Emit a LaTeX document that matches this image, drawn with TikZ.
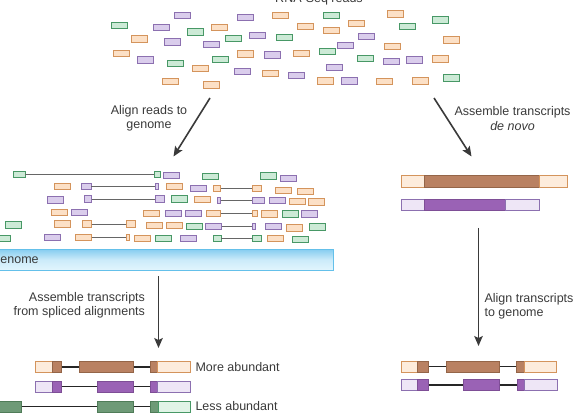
\documentclass[tikz,border=0pt]{standalone}
\usepackage{fontspec}
\setmainfont{Liberation Sans}
\usetikzlibrary{arrows.meta, shadings}

\definecolor{orline}{RGB}{212,148,92}
\definecolor{orfill}{RGB}{252,224,198}
\definecolor{puline}{RGB}{140,112,176}
\definecolor{pufill}{RGB}{218,205,236}
\definecolor{grline}{RGB}{72,152,102}
\definecolor{grfill}{RGB}{204,234,214}
\definecolor{ordark}{RGB}{185,129,98}
\definecolor{ordkline}{RGB}{148,101,72}
\definecolor{orpale}{RGB}{253,236,220}
\definecolor{pudark}{RGB}{154,98,181}
\definecolor{pudkline}{RGB}{126,78,150}
\definecolor{pupale}{RGB}{238,230,246}
\definecolor{grdark}{RGB}{110,154,119}
\definecolor{grdkline}{RGB}{79,124,88}
\definecolor{grpale}{RGB}{224,244,230}
\definecolor{genline}{RGB}{100,192,234}
\definecolor{gentop}{RGB}{135,205,240}
\definecolor{genbot}{RGB}{226,245,253}
\definecolor{ink}{RGB}{58,58,58}

\begin{document}
\begin{tikzpicture}[x=1pt, y=-1pt,
  font=\fontsize{12.5}{14.4}\selectfont, text=ink,
  read/.style={draw, line width=0.9pt, minimum width=16pt, minimum height=6.5pt, inner sep=0pt},
  oread/.style={read, draw=orline, fill=orfill},
  pread/.style={read, draw=puline, fill=pufill},
  gread/.style={read, draw=grline, fill=grfill},
  splice/.style={draw=black!60, line width=0.8pt},
  seg/.style={draw, line width=0.8pt, minimum height=11pt, inner sep=0pt, anchor=west},
  orexon/.style={seg, draw=ordkline, fill=ordark},
  orutr/.style={seg, draw=orline, fill=orpale},
  puexon/.style={seg, draw=pudkline, fill=pudark},
  puutr/.style={seg, draw=puline, fill=pupale},
  grexon/.style={seg, draw=grdkline, fill=grdark},
  grutr/.style={seg, draw=grline, fill=grpale},
  intron/.style={draw=black!85, line width=1.9pt},
  flow/.style={draw=ink, line width=1.6pt, -{Stealth[length=10pt, width=8.5pt, inset=2pt]}}]
\useasboundingbox (0,0) rectangle (581,414);
\clip (0,0) rectangle (581,414);
% top: RNA-Seq reads
\node[anchor=base] (title) at (319,2.5) {RNA-Seq reads};
\foreach \x/\y [count=\i] in {280/15.7, 395/14, 219/27.3, 305/26.7, 356.7/23.7, 331/30.7, 139/39, 392/46.3,
    451/40, 121.3/53.3, 245.3/54, 301/53.7, 200/68.3, 440/59, 270.3/73.7, 170.7/81.7, 211/85, 325/81, 384/81.7, 420/81}
  \node[oread] (ro\i) at (\x,\y) {};
\foreach \x/\y [count=\i] in {182.7/15.7, 245/17.7, 161/27.7, 257.7/35.7, 172.3/42, 211.3/44.3, 366.3/36.7, 345.7/45.7,
    272/55, 145/60, 391.3/61.7, 414.7/60, 242.3/71.7, 296.7/75.7, 334.7/67.3, 349/81}
  \node[pread] (rp\i) at (\x,\y) {};
\foreach \x/\y [count=\i] in {331/15.7, 440/20, 119/25.7, 407/26.7, 195.3/32, 284/37.3, 233/38.7, 327.3/51.7,
    220.7/59.7, 175.7/63.3, 365.7/58.7, 451/78}
  \node[gread] (rg\i) at (\x,\y) {};
% arrows and labels out of the reads
\coordinate (alS) at (210,98);
\coordinate (alE) at (173.5,156.5);
\coordinate (dnS) at (434,98);
\coordinate (dnE) at (471.5,156.5);
\draw[flow] (alS) -- (alE);
\draw[flow] (dnS) -- (dnE);
\node[align=center] (alLbl) at (149,118.5) {Align reads to\\genome};
\node[align=center] (dnLbl) at (512.5,118.5) {Assemble transcripts\\\textit{de novo}};
% left: reads aligned to the genome
\foreach \x/\y [count=\i] in {62.3/186.7, 174/186.7, 283.3/190.7, 305.3/191.7, 202/199.3, 297.3/201.3, 316.7/202,
    59.3/212.3, 151.7/213.3, 269.3/214, 62.3/224, 154/225.7, 174/225.7, 294.3/228, 142.7/238.3, 275.3/238.7}
  \node[oread] (ao\i) at (\x,\y) {};
\foreach \x/\y [count=\i] in {171.7/175.7, 288/178.3, 198/188.3, 55.7/200, 277.7/200.7, 79/212.3, 173.3/213.3,
    193.3/213.3, 309.3/214, 273.3/226.7, 52.3/237.7, 188.7/238.3}
  \node[pread] (ap\i) at (\x,\y) {};
\foreach \x/\y [count=\i] in {210/176.7, 268.3/176, 179.3/199, 290/214, 13.3/225, 194.3/226.7, 317.7/227,
    2.7/238.3, 163.3/238.3, 300/239.3}
  \node[gread] (ag\i) at (\x,\y) {};
% spliced reads
\foreach \c/\xa/\wa/\xb/\wb/\y [count=\i] in {gread/19/12pt/157.7/6pt/174.5, pread/86/10pt/156.7/3pt/186.5,
    oread/217.3/7pt/256.7/9pt/188.3, pread/88/7pt/159.7/9pt/199, pread/219/3pt/258.7/12pt/200.7,
    oread/213.3/14pt/254.7/5pt/213.3, oread/86.7/9pt/130.7/9pt/224, pread/213.3/16pt/254/3pt/226.7,
    oread/83.3/16pt/127.7/3pt/237.7, gread/217/8pt/256.7/9pt/238.7}
{
  \node[\c, minimum width=\wa] (sa\i) at (\xa,\y) {};
  \node[\c, minimum width=\wb] (sb\i) at (\xb,\y) {};
  \draw[splice] (sa\i) -- (sb\i);
}
\node[draw=genline, line width=0.9pt, top color=gentop, bottom color=genbot, middle color=genbot!75!gentop,
  minimum width=338pt, minimum height=20.7pt, inner sep=0pt, anchor=west] (genome) at (-5,259.7) {};
\node[anchor=base west, inner sep=0pt] (genLbl) at (-9.5,263.5) {Genome};
% left: assemble from spliced alignments
\coordinate (spS) at (158.5,276);
\coordinate (spE) at (158.5,348);
\draw[flow] (spS) -- (spE);
\node[align=right, anchor=east] (spLbl) at (148.5,305.5) {Assemble transcripts\\from spliced alignments};
\node[orutr, minimum width=17pt] (lo1) at (34.7,367) {};
\node[orexon, minimum width=9.3pt] (lo2) at (51.7,367) {};
\node[orexon, minimum width=53.4pt] (lo3) at (79.3,367) {};
\node[orexon, minimum width=7.3pt] (lo4) at (150,367) {};
\node[orutr, minimum width=32.7pt] (lo5) at (157.3,367) {};
\draw[intron] (lo2) -- (lo3);
\draw[intron] (lo3) -- (lo4);
\node[puutr, minimum width=17pt] (lp1) at (34.7,386.5) {};
\node[puexon, minimum width=9.3pt] (lp2) at (51.7,386.5) {};
\node[puexon, minimum width=36.6pt] (lp3) at (96.7,386.5) {};
\node[puexon, minimum width=7.3pt] (lp4) at (150,386.5) {};
\node[puutr, minimum width=32.7pt] (lp5) at (157.3,386.5) {};
\draw[intron] (lp2) -- (lp3);
\draw[intron] (lp3) -- (lp4);
\node[grexon, minimum width=22.7pt] (lg1) at (-2,406.5) {};
\node[grexon, minimum width=36pt] (lg2) at (96.7,406.5) {};
\node[grexon, minimum width=8pt] (lg3) at (150,406.5) {};
\node[grutr, minimum width=32pt] (lg4) at (158,406.5) {};
\draw[intron] (lg1) -- (lg2);
\draw[intron] (lg2) -- (lg3);
\node[anchor=west] (moreLbl) at (192,367) {More abundant};
\node[anchor=west] (lessLbl) at (192,406.5) {Less abundant};
% right: de novo transcripts
\node[orutr, minimum width=23.3pt, minimum height=11.6pt] (do1) at (400.7,181.5) {};
\node[orexon, minimum width=115.3pt, minimum height=11.6pt] (do2) at (424,181.5) {};
\node[orutr, minimum width=28pt, minimum height=11.6pt] (do3) at (539.3,181.5) {};
\node[puutr, minimum width=23.3pt, minimum height=10.7pt] (dp1) at (400.7,204.7) {};
\node[puexon, minimum width=81.3pt, minimum height=10.7pt] (dp2) at (424,204.7) {};
\node[puutr, minimum width=34pt, minimum height=10.7pt] (dp3) at (505.3,204.7) {};
% right: align transcripts to genome
\coordinate (atS) at (478.5,228);
\coordinate (atE) at (478.5,346);
\draw[flow] (atS) -- (atE);
\node[align=left, anchor=west] (atLbl) at (481,306) {Align transcripts\\to genome};
\node[orutr, minimum width=16.6pt] (ro1) at (400.7,366.5) {};
\node[orexon, minimum width=10.4pt] (ro2) at (417.3,366.5) {};
\node[orexon, minimum width=53.3pt] (ro3) at (445.7,366.5) {};
\node[orexon, minimum width=8pt] (ro4) at (516,366.5) {};
\node[orutr, minimum width=32pt] (ro5) at (524,366.5) {};
\draw[intron] (ro2) -- (ro3);
\draw[intron] (ro3) -- (ro4);
\node[puutr, minimum width=16.6pt] (rp1) at (400.7,385.2) {};
\node[puexon, minimum width=10.7pt] (rp2) at (417.3,385.2) {};
\node[puexon, minimum width=36.3pt] (rp3) at (462.7,385.2) {};
\node[puexon, minimum width=7.6pt] (rp4) at (516.7,385.2) {};
\node[puutr, minimum width=32.4pt] (rp5) at (524.3,385.2) {};
\draw[intron] (rp2) -- (rp3);
\draw[intron] (rp3) -- (rp4);
\end{tikzpicture}
\end{document}
